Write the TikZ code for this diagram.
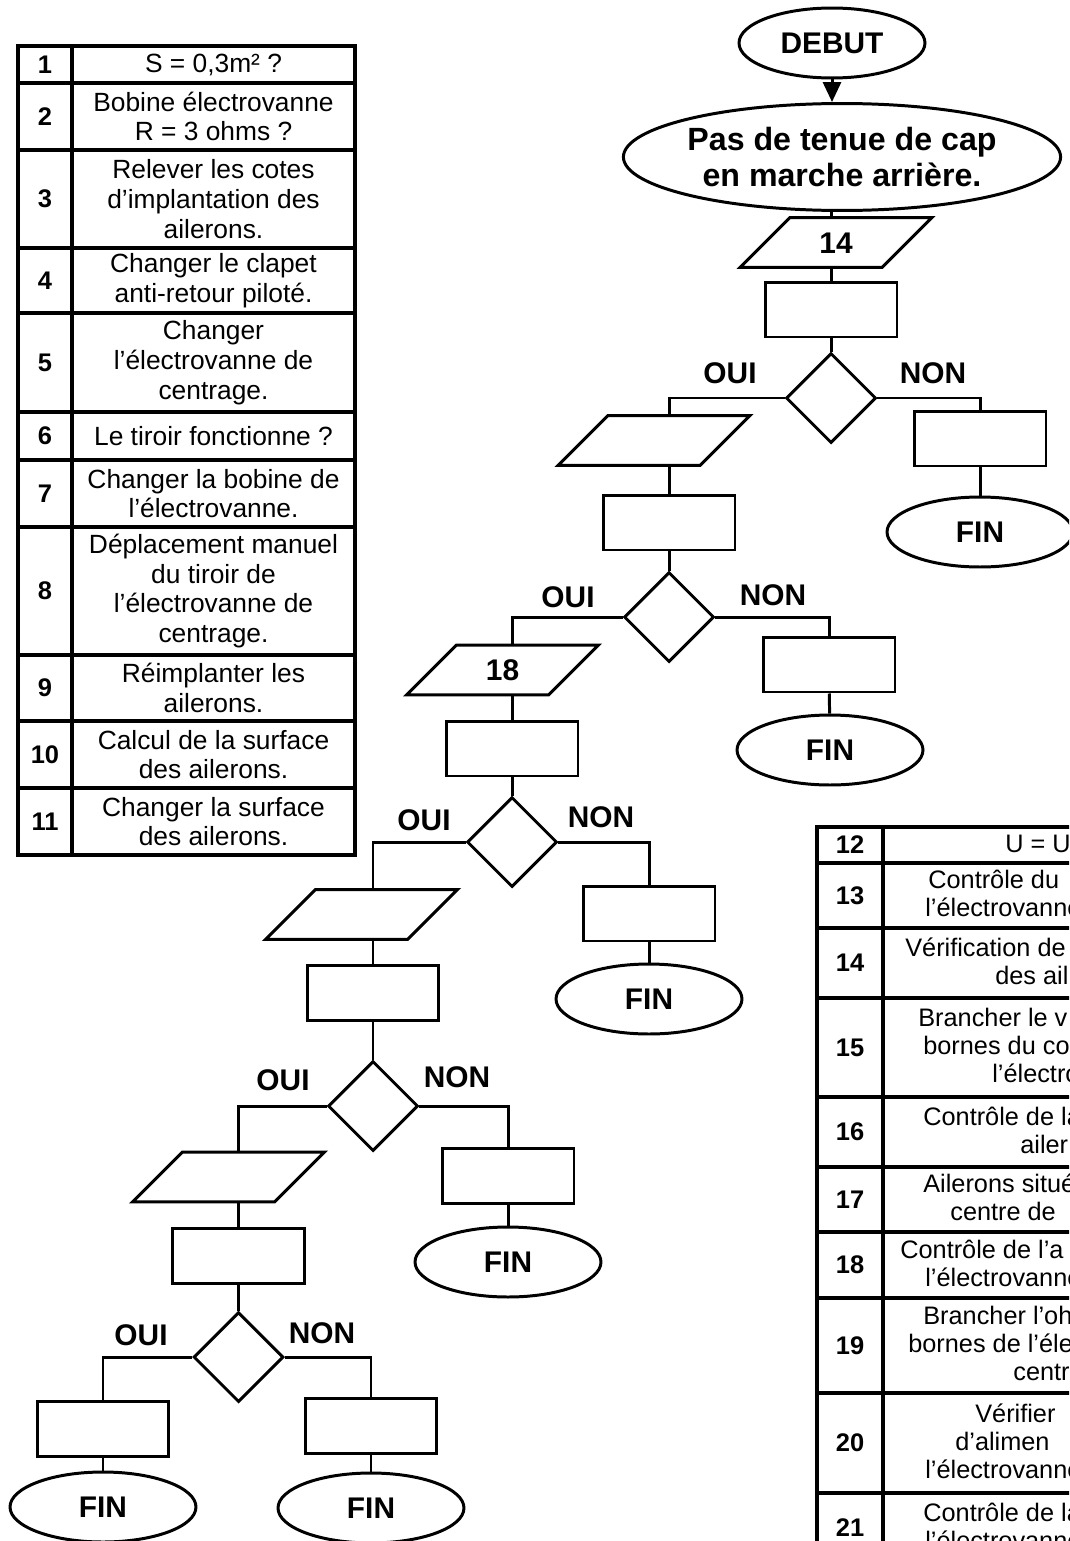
\documentclass[tikz,border=0pt]{standalone}
\usepackage{fontspec}
\setmainfont{Liberation Sans}
\usetikzlibrary{shapes.geometric, arrows.meta, positioning}
\newcommand{\policecase}{\fontsize{15pt}{16.9pt}\selectfont}
\newcommand{\policefrag}{\fontsize{14.4pt}{16pt}\selectfont}
\newcommand{\policenum}{\fontsize{14.5pt}{16pt}\selectfont\bfseries}
\newcommand{\policelogi}{\fontsize{17pt}{20pt}\selectfont\bfseries}
\newcommand{\policetitre}{\fontsize{18.3pt}{21pt}\selectfont\bfseries}
\tikzset{
	% tableaux
	trait/.style={line width=2.3pt, line cap=rect},
	cell/.style={align=center, inner sep=0pt, font=\policecase},
	num/.style={inner sep=0pt, font=\policenum},
	frag/.style={inner sep=0pt, anchor=base west, font=\policefrag},
	% logigramme
	lien/.style={line width=1.7pt},
	bloc/.style={draw, rectangle, line width=1.7pt, minimum width=2.64cm, minimum height=1.1cm, inner sep=0pt},
	entree/.style={draw, trapezium, trapezium left angle=45, trapezium right angle=135,
		line width=1.7pt, text width=1cm, text height=12pt, text depth=0pt,
		inner xsep=0.42cm, inner ysep=8.2pt, align=center, font=\policelogi},
	test/.style={draw, diamond, aspect=1, minimum size=1.8cm, line width=1.7pt, inner sep=0pt},
	borne/.style={draw, ellipse, line width=1.7pt, minimum width=3.72cm, minimum height=1.4cm,
		inner sep=0pt, font=\policelogi},
	lbl/.style={inner sep=0pt, font=\policelogi}
}

\begin{document}
\begin{tikzpicture}[x=0.02cm, y=-0.02cm]
	\useasboundingbox (0,0) rectangle (1069,1541);
	\clip (0,0) rectangle (1069,1541);

	% tableau de gauche
	\draw[trait] (18,46) rectangle (355,855);
	\draw[trait] (72,46) -- (72,855);
	\foreach \y in {83,150,248,313,412,460,527,655,721,788}
		\draw[trait] (18,\y) -- (355,\y);
	\node[num] (n1) at (45,64.5) {1};
	\node[cell] (c1) at (213.5,64.5) {S = 0,3m² ?};
	\node[num] (n2) at (45,116.5) {2};
	\node[cell] (c2) at (213.5,116.5) {Bobine électrovanne\\R = 3 ohms ?};
	\node[num] (n3) at (45,199) {3};
	\node[cell] (c3) at (213.5,199) {Relever les cotes\\d’implantation des\\ailerons.};
	\node[num] (n4) at (45,280.5) {4};
	\node[cell] (c4) at (213.5,280.5) {Changer le clapet\\anti-retour piloté.};
	\node[num] (n5) at (45,362.5) {5};
	\node[cell] (c5) at (213.5,362.5) {Changer\\l’électrovanne de\\centrage.};
	\node[num] (n6) at (45,436) {6};
	\node[cell] (c6) at (213.5,436) {Le tiroir fonctionne ?};
	\node[num] (n7) at (45,493.5) {7};
	\node[cell] (c7) at (213.5,493.5) {Changer la bobine de\\l’électrovanne.};
	\node[num] (n8) at (45,591) {8};
	\node[cell] (c8) at (213.5,591) {Déplacement manuel\\du tiroir de\\l’électrovanne de\\centrage.};
	\node[num] (n9) at (45,688) {9};
	\node[cell] (c9) at (213.5,688) {Réimplanter les\\ailerons.};
	\node[num] (n10) at (45,754.5) {10};
	\node[cell] (c10) at (213.5,754.5) {Calcul de la surface\\des ailerons.};
	\node[num] (n11) at (45,821.5) {11};
	\node[cell] (c11) at (213.5,821.5) {Changer la surface\\des ailerons.};

	% tableau de droite (coupe par le bord)
	\draw[trait] (1100,827) -- (817,827) -- (817,1600);
	\draw[trait] (883,827) -- (883,1600);
	\foreach \y in {863,928,998,1097,1167,1232,1298,1393,1493}
		\draw[trait] (817,\y) -- (1100,\y);
	\foreach \n/\y in {12/845,13/895.5,14/963,15/1047.5,16/1132,17/1199.5,18/1265,19/1345.5,20/1443,21/1528}
		\node[num] (n\n) at (850,\y) {\n};
	\foreach \x/\y/\t [count=\i] in {1005/845/{U = U}, 928/881.6/{Contrôle du}, 925/909.4/{l’électrovanne},
		905/949/{Vérification de}, 995/977/{des ail},
		918/1019.7/{Brancher le v}, 923/1047.5/{bornes du co}, 992/1075.3/{l’électro},
		923/1118/{Contrôle de la}, 1020/1146/{ailer},
		923/1185.6/{Ailerons situé}, 950/1213.4/{centre de},
		900/1251/{Contrôle de l’a}, 925/1279/{l’électrovanne},
		923/1317.7/{Brancher l’oh}, 908/1345.5/{bornes de l’éle}, 1013/1373.3/{centr},
		975/1415/{Vérifier}, 955/1443/{d’alimen}, 925/1471/{l’électrovanne},
		923/1514/{Contrôle de la}, 925/1542/{l’électrovanne}}
		\node[frag] (f\i) at (\x,\y+7) {\t};

	% logigramme
	\node[borne] (debut) at (832,43) {DEBUT};
	\node[borne, minimum width=8.62cm, minimum height=2.14cm, align=center, font=\policetitre] (panne) at (842,157) {Pas de tenue de cap\\en marche arrière.};
	\node[entree] (e14) at (836,242.5) {14};
	\node[bloc] (b1) at (831,309.5) {};
	\node[test] (t1) at (831,398) {};
	\node[lbl] (oui1) at (730,373) {OUI};
	\node[lbl] (non1) at (933,373) {NON};
	\node[bloc] (b3) at (980,438.5) {};
	\node[borne] (fin1) at (980,532) {FIN};

	\node[entree] (e2) at (654,440.5) {};
	\node[bloc] (b2) at (669,522.5) {};
	\node[test] (t2) at (669,617) {};
	\node[lbl] (oui2) at (568,597) {OUI};
	\node[lbl] (non2) at (773,595) {NON};
	\node[bloc] (b4) at (829,664.5) {};
	\node[borne] (fin2) at (830,750) {FIN};

	\node[entree] (e18) at (502.5,670) {18};
	\node[bloc] (b5) at (512,748.5) {};
	\node[test] (t3) at (512,842) {};
	\node[lbl] (oui3) at (424,820) {OUI};
	\node[lbl] (non3) at (601,817) {NON};
	\node[bloc] (b6) at (649,913.5) {};
	\node[borne] (fin3) at (649,999) {FIN};

	\node[entree] (e4) at (361.5,914.5) {};
	\node[bloc] (b7) at (373,992.5) {};
	\node[test] (t4) at (373,1106) {};
	\node[lbl] (oui4) at (283,1080) {OUI};
	\node[lbl] (non4) at (457,1077) {NON};
	\node[bloc] (b8) at (508,1176) {};
	\node[borne] (fin4) at (508,1262) {FIN};

	\node[entree] (e5) at (228.5,1177) {};
	\node[bloc] (b9) at (238.5,1255.5) {};
	\node[test] (t5) at (238.5,1357) {};
	\node[lbl] (oui5) at (141,1335) {OUI};
	\node[lbl] (non5) at (322,1333) {NON};
	\node[bloc] (b10) at (103,1428.5) {};
	\node[bloc] (b11) at (371,1426) {};
	\node[borne] (fin5) at (103,1507) {FIN};
	\node[borne] (fin6) at (371,1508) {FIN};

	% liaisons
	\draw[lien, -{Triangle[width=0.36cm, length=0.4cm]}] (debut) -- (debut.south |- panne.north);
	\draw[lien] (panne.south -| b1) -- (e14.north -| b1);
	\draw[lien] (e14.south -| b1) -- (b1);
	\draw[lien] (b1) -- (t1);
	\draw[lien] (t1.west) -| (e2.north -| b2);
	\draw[lien] (t1.east) -| (b3);
	\draw[lien] (b3) -- (fin1);

	\draw[lien] (e2.south -| b2) -- (b2);
	\draw[lien] (b2) -- (t2);
	\draw[lien] (t2.west) -| (e18.north -| b5);
	\draw[lien] (t2.east) -| (b4);
	\draw[lien] (b4) -- (fin2);

	\draw[lien] (e18.south -| b5) -- (b5);
	\draw[lien] (b5) -- (t3);
	\draw[lien] (t3.west) -| (e4.north -| b7);
	\draw[lien] (t3.east) -| (b6);
	\draw[lien] (b6) -- (fin3);

	\draw[lien] (e4.south -| b7) -- (b7);
	\draw[lien] (b7) -- (t4);
	\draw[lien] (t4.west) -| (e5.north -| b9);
	\draw[lien] (t4.east) -| (b8);
	\draw[lien] (b8) -- (fin4);

	\draw[lien] (e5.south -| b9) -- (b9);
	\draw[lien] (b9) -- (t5);
	\draw[lien] (t5.west) -| (b10);
	\draw[lien] (t5.east) -| (b11);
	\draw[lien] (b10) -- (fin5);
	\draw[lien] (b11) -- (fin6);
\end{tikzpicture}
\end{document}
